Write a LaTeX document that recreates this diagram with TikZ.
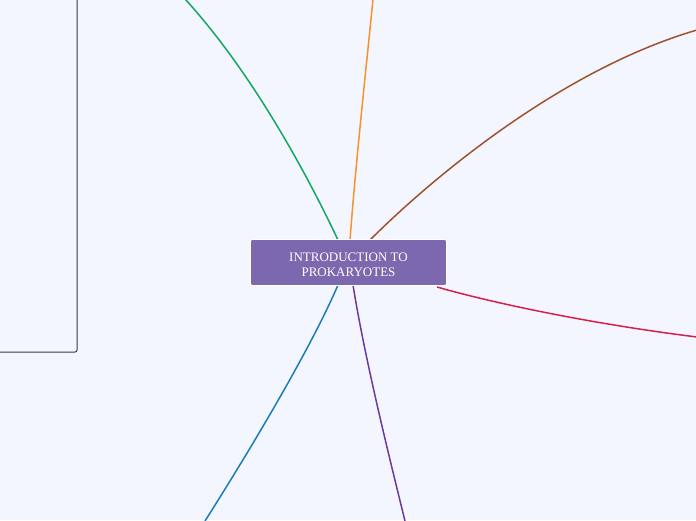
\documentclass[tikz,border=0pt]{standalone}
\usepackage{fontspec}
\setmainfont{Liberation Serif}
\definecolor{bg}{HTML}{F3F6FE}
\definecolor{mainfill}{HTML}{7B68AE}
\definecolor{cgreen}{HTML}{14A85E}
\definecolor{corange}{HTML}{F7922E}
\definecolor{cbrown}{HTML}{A0522D}
\definecolor{cred}{HTML}{D4204A}
\definecolor{cpurple}{HTML}{6B3A9E}
\definecolor{cblue}{HTML}{1A7DB8}
\definecolor{boxline}{HTML}{3A3A48}
\begin{document}
\begin{tikzpicture}[x=1pt,y=-1pt,
  mainnode/.style={draw=white,line width=0.8pt,fill=mainfill,rounded corners=2pt,
    minimum width=196pt,minimum height=46pt,inner sep=0pt,align=center,
    font=\fontsize{13}{15.5}\selectfont,text=white},
  branch/.style={line width=1.5pt}]
\useasboundingbox (0,0) rectangle (696,520);
\fill[bg] (0,0) rectangle (696,520);
% left box
\draw[boxline,line width=1pt,rounded corners=2pt] (-10,-10) -- (77,-10) -- (77,352) -- (-10,352);
% endpoints
\coordinate (eg) at (185,-1);
\coordinate (eo) at (373,-1);
\coordinate (eb) at (697,30);
\coordinate (er) at (697,337);
\coordinate (ep) at (405,521);
\coordinate (el) at (205,521);
\coordinate (sg) at (338,240);
\coordinate (so) at (350,240);
\coordinate (sb) at (370,240);
\coordinate (sr) at (437,287);
\coordinate (sp) at (353,285);
\coordinate (sl) at (338,285);
\draw[branch,cgreen] (sg) .. controls (305,170) and (250,70) .. (eg);
\draw[branch,corange] (so) .. controls (356,160) and (366,70) .. (eo);
\draw[branch,cbrown] (sb) .. controls (430,180) and (560,70) .. (eb);
\draw[branch,cred] (sr) .. controls (500,305) and (600,325) .. (er);
\draw[branch,cpurple] (sp) .. controls (365,360) and (390,460) .. (ep);
\draw[branch,cblue] (sl) .. controls (310,350) and (250,450) .. (el);
\node[mainnode] (main) at (348.5,262.5) {};
\node[font=\fontsize{13}{15.5}\selectfont,text=white,align=center,inner sep=0pt] (title) at (348.5,265) {INTRODUCTION TO\\PROKARYOTES};
\end{tikzpicture}
\end{document}
